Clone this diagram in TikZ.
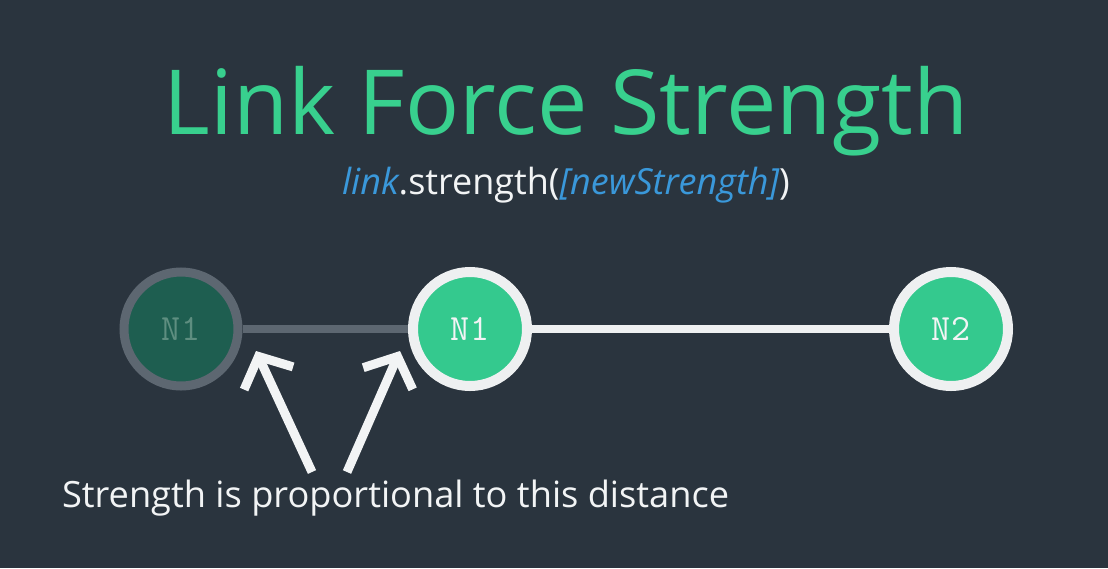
\documentclass[tikz,border=0pt]{standalone}
\usepackage{fontspec}
\setmainfont{Open Sans}
\setmonofont{Latin Modern Mono}
\usetikzlibrary{arrows.meta}
\definecolor{bg}{HTML}{2A343E}
\definecolor{titlegreen}{HTML}{38D08E}
\definecolor{codeblue}{HTML}{3A98DA}
\definecolor{nodefill}{HTML}{34C98E}
\definecolor{nodering}{HTML}{EEF0F1}
\definecolor{ghostfill}{HTML}{1E5E50}
\definecolor{ghostring}{HTML}{5D6771}
\definecolor{ghosttext}{HTML}{5E8E80}
\definecolor{textwhite}{HTML}{F2F4F5}
\tikzset{
  graphnode/.style={circle, inner sep=0pt, minimum size=114pt, line width=10pt,
    draw=nodering, fill=nodefill, text=textwhite,
    font=\ttfamily\fontsize{37}{37}\selectfont},
  ghostnode/.style={graphnode, draw=ghostring, fill=ghostfill, text=ghosttext, line width=9pt},
  linkline/.style={line width=8pt, draw=nodering},
  ghostlink/.style={line width=8pt, draw=ghostring},
  pointer/.style={line width=9pt, draw=textwhite,
    -{Straight Barb[length=24pt, width=54pt, line cap=butt, line join=miter]}},
  plain/.style={inner sep=0pt, outer sep=0pt}
}
\begin{document}
\begin{tikzpicture}[x=1pt,y=-1pt]
\fill[bg] (0,0) rectangle (1108,568);
\useasboundingbox (0,0) rectangle (1108,568);
\node[plain, anchor=base, text=titlegreen, font=\fontsize{89.8}{90}\selectfont] (title) at (566,134) {Link Force Strength};
\node[plain, anchor=base, text=textwhite, font=\fontsize{36}{36}\selectfont] (sub) at (566,194)
  {\textcolor{codeblue}{\itshape link}.strength(\textcolor{codeblue}{\itshape [newStrength]})};
\node[ghostnode] (g) at (181,329) {N1};
\node[graphnode] (n1) at (470,329) {N1};
\node[graphnode] (n2) at (951,329) {N2};
\draw[ghostlink] (g) -- (n1);
\draw[linkline] (n1) -- (n2);
\coordinate (a1s) at (312,472);
\coordinate (a1t) at (256,351);
\coordinate (a2s) at (347,472);
\coordinate (a2t) at (400,351);
\draw[pointer] (a1s) -- (a1t);
\draw[pointer] (a2s) -- (a2t);
\node[plain, anchor=base west, text=textwhite, font=\fontsize{36.2}{36}\selectfont] (caption) at (62,507) {Strength is proportional to this distance};
\end{tikzpicture}
\end{document}
